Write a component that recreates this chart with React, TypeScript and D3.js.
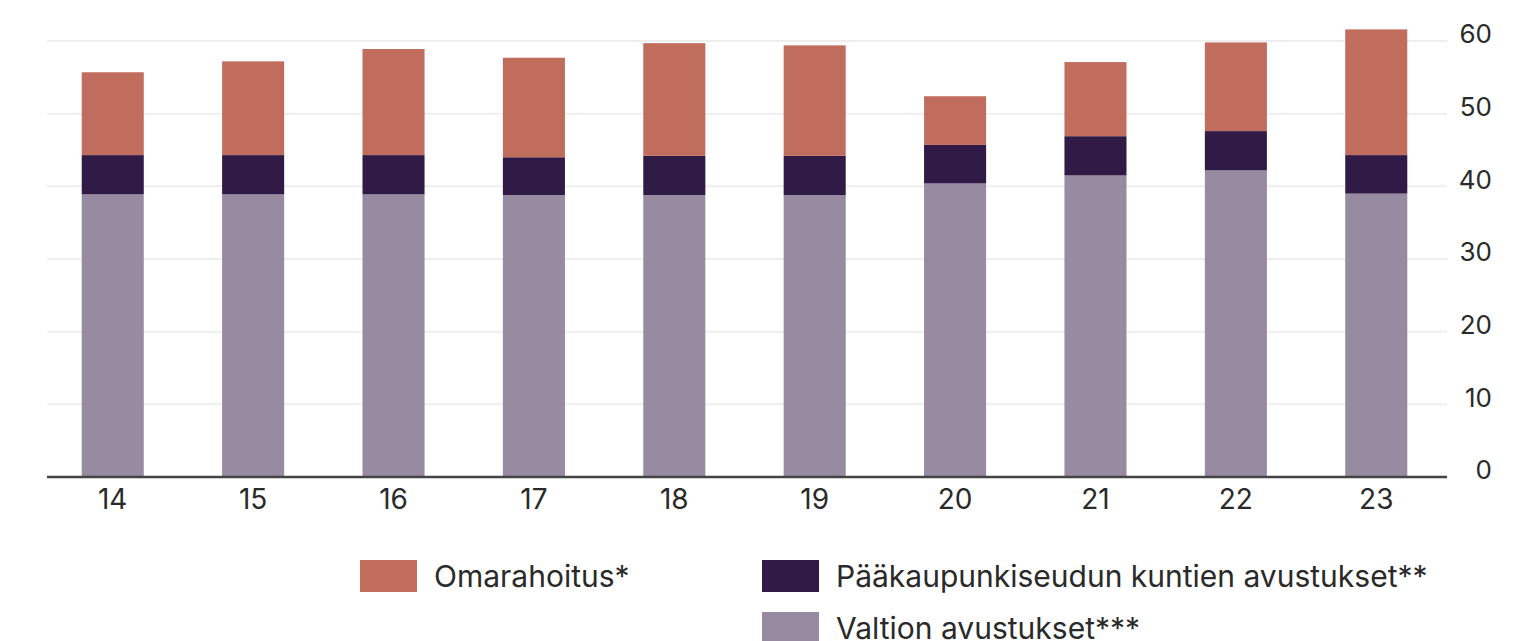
import React from "react";
import * as d3 from "d3";

// years (20xx) on the x axis
const years = ["14", "15", "16", "17", "18", "19", "20", "21", "22", "23"];
// series values, M€
const valtio = [38.9, 38.9, 38.9, 38.8, 38.8, 38.8, 40.4, 41.5, 42.2, 39.0];
const kunnat = [5.4, 5.4, 5.4, 5.2, 5.4, 5.4, 5.3, 5.4, 5.4, 5.3];
const omarahoitus = [11.4, 12.9, 14.6, 13.7, 15.5, 15.2, 6.7, 10.2, 12.2, 17.3];
const yTicks = [0, 10, 20, 30, 40, 50, 60];

const keys = ["valtio", "kunnat", "omarahoitus"];
const colors: Record<string, string> = {
  valtio: "#968ba1",
  kunnat: "#2f1b46",
  omarahoitus: "#c06d5e",
};

const W = 1536;
const H = 641;
const FONT = "Inter, 'Noto Sans', sans-serif";

export default function App() {
  const rows = years.map((y, i) => ({
    year: y,
    valtio: valtio[i],
    kunnat: kunnat[i],
    omarahoitus: omarahoitus[i],
  }));
  const series = d3.stack<any>().keys(keys)(rows);

  const x = d3
    .scaleBand()
    .domain(years)
    .range([41, 1448])
    .paddingInner(0.558)
    .paddingOuter(0.29);
  const y = d3.scaleLinear().domain([0, 60]).range([477, 41]);

  const legend = [
    { key: "omarahoitus", label: "Omarahoitus*", x: 360, y: 560 },
    { key: "kunnat", label: "Pääkaupunkiseudun kuntien avustukset**", x: 762, y: 560 },
    { key: "valtio", label: "Valtion avustukset***", x: 762, y: 612 },
  ];

  return (
    <svg
      width={W}
      height={H}
      style={{ position: "absolute", left: 0, top: 0, background: "#fff" }}
      fontFamily={FONT}
    >
      {/* gridlines */}
      {yTicks.slice(1).map((t) => (
        <line key={t} x1={47} x2={1447} y1={y(t)} y2={y(t)} stroke="#eeeeee" strokeWidth={2} />
      ))}
      {/* bars */}
      {series.map((s) => (
        <g key={s.key} fill={colors[s.key]}>
          {s.map((d: any) => (
            <rect
              key={d.data.year}
              x={x(d.data.year)}
              y={y(d[1])}
              width={x.bandwidth()}
              height={y(d[0]) - y(d[1])}
            />
          ))}
        </g>
      ))}
      {/* baseline */}
      <line x1={47} x2={1447} y1={y(0)} y2={y(0)} stroke="#444" strokeWidth={2.5} />
      {/* y labels, right side, sitting a bit above their gridline */}
      {yTicks.map((t) => (
        <text
          key={t}
          x={1492}
          y={y(t) - 7}
          dy="0.36em"
          textAnchor="end"
          fontSize={26}
          fill="#2a2a2a"
        >
          {t}
        </text>
      ))}
      {/* x labels */}
      {years.map((yr) => (
        <text
          key={yr}
          x={(x(yr) ?? 0) + x.bandwidth() / 2}
          y={499}
          dy="0.36em"
          textAnchor="middle"
          fontSize={28}
          fill="#2a2a2a"
        >
          {yr}
        </text>
      ))}
      {/* legend */}
      {legend.map((l) => (
        <g key={l.key} transform={`translate(${l.x},${l.y})`}>
          <rect width={57} height={32} fill={colors[l.key]} />
          <text x={74} y={16} dy="0.36em" fontSize={30} fill="#2a2a2a">
            {l.label}
          </text>
        </g>
      ))}
    </svg>
  );
}
